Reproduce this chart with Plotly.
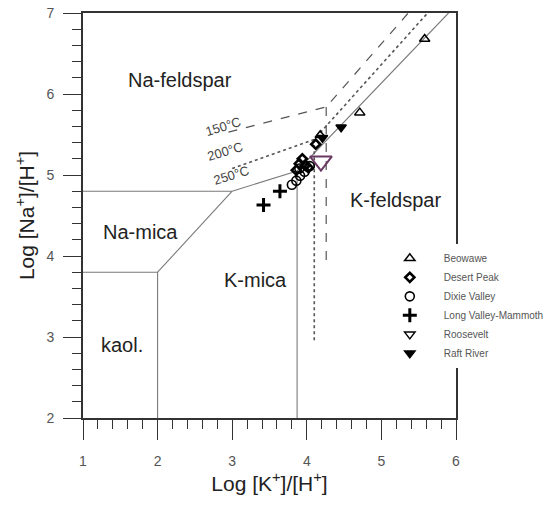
import plotly.graph_objects as go

# ---- stability field boundaries (log aK+/aH+ , log aNa+/aH+) ----
kaol_x = [1.0, 2.0, 2.0]
kaol_y = [3.8, 3.8, 2.0]
namica_top_x = [1.0, 3.0]
namica_top_y = [4.8, 4.8]
namica_kmica_x = [2.0, 3.0]
namica_kmica_y = [3.8, 4.8]

t250_x = [3.0, 3.87, 5.9]
t250_y = [4.8, 5.05, 7.0]
t250_v_x = [3.87, 3.87]
t250_v_y = [2.0, 5.05]

t200_x = [3.0, 4.10, 5.62]
t200_y = [5.08, 5.44, 7.0]
t200_v_x = [4.10, 4.10]
t200_v_y = [2.96, 5.44]

t150_x = [2.95, 4.26, 5.36]
t150_y = [5.53, 5.84, 7.0]
t150_v_x = [4.26, 4.26]
t150_v_y = [3.95, 5.84]

# ---- geothermal fluid compositions ----
beowawe_x = [5.58, 4.71, 4.18]
beowawe_y = [6.68, 5.77, 5.49]
desert_peak_x = [3.86, 3.90, 3.94, 3.98, 4.02, 4.12]
desert_peak_y = [5.06, 5.14, 5.20, 5.12, 5.09, 5.38]
dixie_valley_x = [3.80, 3.86, 3.91, 3.97, 4.04, 3.90]
dixie_valley_y = [4.88, 4.93, 4.99, 5.04, 5.11, 5.08]
long_valley_x = [3.42, 3.64]
long_valley_y = [4.63, 4.80]
roosevelt_x = [4.19]
roosevelt_y = [5.17]
raft_river_x = [4.46, 4.21]
raft_river_y = [5.59, 5.46]

LINE = "#7a7a7a"
DARK = "#555555"
FONT = "Liberation Sans, Arial"

fig = go.Figure()


def boundary(x, y, color=LINE, width=1.1, dash="solid"):
    fig.add_trace(go.Scatter(x=x, y=y, mode="lines", showlegend=False,
                             hoverinfo="skip",
                             line=dict(color=color, width=width, dash=dash)))


boundary(kaol_x, kaol_y)
boundary(namica_top_x, namica_top_y)
boundary(namica_kmica_x, namica_kmica_y)
boundary(t250_x, t250_y)
boundary(t250_v_x, t250_v_y)
boundary(t200_x, t200_y, DARK, 1.6, "dot")
boundary(t200_v_x, t200_v_y, DARK, 1.6, "dot")
boundary(t150_x, t150_y, DARK, 1.2, "dash")
boundary(t150_v_x, t150_v_y, DARK, 1.2, "dash")


def samples(name, x, y, symbol, size, color="black", lw=1.5, legend=True):
    fig.add_trace(go.Scatter(x=x, y=y, mode="markers", name=name,
                             showlegend=legend, legendgroup=name,
                             marker=dict(symbol=symbol, size=size, color=color,
                                         line=dict(color=color, width=lw))))


samples("Beowawe", beowawe_x, beowawe_y, "triangle-up-open", 9)
samples("Desert Peak", desert_peak_x, desert_peak_y, "diamond-open", 7, lw=2.6)
samples("Dixie Valley", dixie_valley_x, dixie_valley_y, "circle-open", 9, lw=1.6)
samples("Long Valley-Mammoth", long_valley_x, long_valley_y, "cross-thin-open",
        10, lw=3)
# Roosevelt: large purple point on the plot, small black key in the legend
samples("Roosevelt", roosevelt_x, roosevelt_y, "triangle-down-open", 19,
        color="#6b3a63", lw=2, legend=False)
fig.add_trace(go.Scatter(x=[None], y=[None], mode="markers", name="Roosevelt",
                         legendgroup="Roosevelt",
                         marker=dict(symbol="triangle-down-open", size=9,
                                     color="black", line=dict(width=1.5))))
samples("Raft River", raft_river_x, raft_river_y, "triangle-down", 9)

# ---- field names ----
fields = [
    ("Na-feldspar", 2.30, 6.17),
    ("Na-mica", 1.77, 4.30),
    ("kaol.", 1.52, 2.90),
    ("K-mica", 3.31, 3.70),
    ("K-feldspar", 5.19, 4.69),
]
for txt, fx, fy in fields:
    fig.add_annotation(x=fx, y=fy, text=txt, showarrow=False,
                       font=dict(size=20, color="#222222", family=FONT))

# ---- isotherm labels ----
isotherms = [("150°C", 2.88, 5.60), ("200°C", 2.90, 5.29), ("250°C", 2.98, 5.00)]
for txt, ix, iy in isotherms:
    fig.add_annotation(x=ix, y=iy, text=txt, showarrow=False, textangle=-17,
                       font=dict(size=13, color="#444444", family=FONT))

axis_common = dict(
    showline=True, linecolor="#333333", linewidth=2, mirror=True,
    showgrid=False, zeroline=False,
    ticks="outside", tickcolor="#333333", tickwidth=1.2,
    tickfont=dict(size=14, color="#555555", family=FONT),
    dtick=1,
    minor=dict(dtick=0.2, ticks="outside", ticklen=9, tickcolor="#333333",
               tickwidth=1.2),
)

fig.update_xaxes(range=[1, 6], ticklen=20, ticklabelstandoff=9,
                 title=dict(text="Log [K<sup>+</sup>]/[H<sup>+</sup>]",
                            font=dict(size=21, color="#222222", family=FONT),
                            standoff=8),
                 **axis_common)
fig.update_yaxes(range=[2, 7], ticklen=18, ticklabelstandoff=6,
                 title=dict(text="Log [Na<sup>+</sup>]/[H<sup>+</sup>]",
                            font=dict(size=21, color="#222222", family=FONT),
                            standoff=6),
                 **axis_common)

fig.update_layout(
    width=553, height=508,
    margin=dict(l=83, r=97, t=13, b=90, autoexpand=False),
    plot_bgcolor="white", paper_bgcolor="white",
    showlegend=True,
    legend=dict(x=0.785, y=0.43, xanchor="left", yanchor="top",
                bgcolor="white", borderwidth=0, itemwidth=58,
                font=dict(size=10, color="#555555", family=FONT),
                itemsizing="trace", tracegroupgap=0),
)

fig.write_html("out.html")
